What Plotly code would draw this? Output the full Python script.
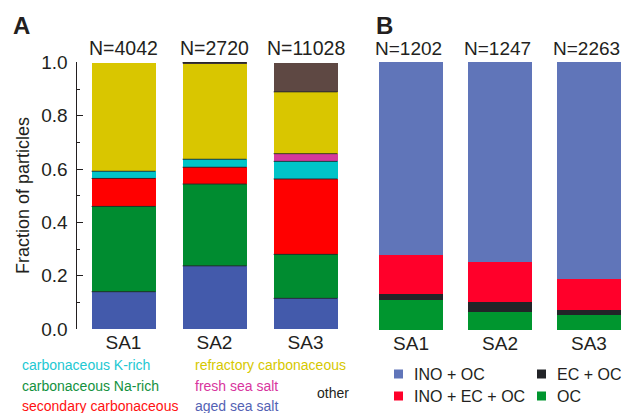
import plotly.graph_objects as go

# ---- data ----------------------------------------------------------------
categories = ["SA1", "SA2", "SA3"]

# Panel A: particle classes (fractions, bottom to top)
n_a = [4042, 2720, 11028]
aged_sea_salt = [0.140, 0.237, 0.115]
carb_na_rich = [0.320, 0.307, 0.165]
secondary_carb = [0.105, 0.063, 0.283]
carb_k_rich = [0.027, 0.030, 0.066]
fresh_sea_salt = [0.000, 0.000, 0.029]
refractory_carb = [0.408, 0.361, 0.232]
other = [0.000, 0.002, 0.110]

# Panel B: mixing state classes (fractions, bottom to top)
n_b = [1202, 1247, 2263]
oc = [0.112, 0.068, 0.056]
ec_oc = [0.022, 0.038, 0.019]
ino_ec_oc = [0.146, 0.149, 0.115]
ino_oc = [0.720, 0.745, 0.810]

# ---- styling -------------------------------------------------------------
W, H = 621, 413
FONT = "Liberation Sans, Arial, sans-serif"
INK = "#231f20"

series_a = [
    ("aged sea salt", aged_sea_salt, "#435aab", "#5462b4"),
    ("carbonaceous Na-rich", carb_na_rich, "#008c30", "#13913e"),
    ("secondary carbonaceous", secondary_carb, "#ff0000", "#ff1010"),
    ("carbonaceous K-rich", carb_k_rich, "#00c4c8", "#22c8d2"),
    ("fresh sea salt", fresh_sea_salt, "#d43a9c", "#d8359e"),
    ("refractory carbonaceous", refractory_carb, "#d9c600", "#d6c800"),
    ("other", other, "#5e4843", INK),
]
series_b = [
    ("OC", oc, "#00962f"),
    ("EC + OC", ec_oc, "#222428"),
    ("INO + EC + OC", ino_ec_oc, "#ff002a"),
    ("INO + OC", ino_oc, "#6075b9"),
]

pos = list(range(len(categories)))


def px_x(p):
    return p / W


def px_y(p):
    return 1 - p / H


fig = go.Figure()

for name, vals, col, _ in series_a:
    fig.add_trace(go.Bar(x=pos, y=vals, name=name, width=0.70,
                         marker=dict(color=col, line=dict(width=0)),
                         xaxis="x", yaxis="y", showlegend=False))

for name, vals, col in series_b:
    fig.add_trace(go.Bar(x=pos, y=vals, name=name, width=0.72,
                         marker=dict(color=col, line=dict(width=0)),
                         xaxis="x2", yaxis="y2", showlegend=False))

# thin dark separators between stacked segments in panel A
shapes = []
for i in pos:
    cum = 0.0
    for _, vals, _, _ in series_a:
        if vals[i] <= 0:
            continue
        cum += vals[i]
        if 0 < cum < 0.999 or (cum >= 0.999 and vals[i] < 0.01):
            shapes.append(dict(type="line", xref="x", yref="y",
                               x0=i - 0.35, x1=i + 0.35, y0=cum, y1=cum,
                               line=dict(color="rgba(35,35,40,0.85)", width=1)))

annotations = []

# N counts above bars
for i, n in zip(pos, n_a):
    annotations.append(dict(x=i, xref="x", y=px_y(48), yref="paper",
                            text=f"N={n}", showarrow=False,
                            font=dict(size=19.5, color=INK, family=FONT),
                            xanchor="center", yanchor="middle"))
for i, n in zip(pos, n_b):
    annotations.append(dict(x=i, xref="x2", y=px_y(48), yref="paper",
                            text=f"N={n}", showarrow=False, xshift=-2,
                            font=dict(size=19, color=INK, family=FONT),
                            xanchor="center", yanchor="middle"))

# panel letters
for letter, x in (("A", 11), ("B", 374)):
    annotations.append(dict(x=px_x(x), y=px_y(25.5), xref="paper", yref="paper",
                            text=f"<b>{letter}</b>", showarrow=False,
                            font=dict(size=24, color=INK, family=FONT),
                            xanchor="left", yanchor="middle"))

# panel A class key (coloured text)
key_a = {
    "carbonaceous K-rich": (20, 365),
    "carbonaceous Na-rich": (20, 386),
    "secondary carbonaceous": (20, 406),
    "refractory carbonaceous": (193, 365),
    "fresh sea salt": (193, 386),
    "aged sea salt": (193, 406),
    "other": (315, 393),
}
for name, _, _, tcol in series_a:
    x, y = key_a[name]
    annotations.append(dict(x=px_x(x), y=px_y(y), xref="paper", yref="paper",
                            text=name, showarrow=False,
                            font=dict(size=14, color=tcol, family=FONT),
                            xanchor="left", yanchor="middle"))

# panel B key (square swatches + labels)
key_b = {
    "INO + OC": (394, 374),
    "INO + EC + OC": (394, 396),
    "EC + OC": (537, 374),
    "OC": (537, 396),
}
for name, _, col in series_b:
    x, y = key_b[name]
    shapes.append(dict(type="rect", xref="paper", yref="paper",
                       x0=px_x(x), x1=px_x(x + 9), y0=px_y(y - 4.5), y1=px_y(y + 4.5),
                       fillcolor=col, line=dict(width=0)))
    annotations.append(dict(x=px_x(x + 18), y=px_y(y), xref="paper", yref="paper",
                            text=name, showarrow=False,
                            font=dict(size=16, color=INK, family=FONT),
                            xanchor="left", yanchor="middle"))

tickfont = dict(size=19, color=INK, family=FONT)

fig.update_layout(
    width=W, height=H,
    margin=dict(l=0, r=0, t=0, b=0),
    paper_bgcolor="white", plot_bgcolor="white",
    barmode="stack", bargap=0,
    showlegend=False,
    font=dict(family=FONT, color=INK),
    xaxis=dict(domain=[px_x(76.5), px_x(345)], range=[-0.516, 2.434],
               tickvals=pos, ticktext=categories, tickfont=tickfont,
               showline=False, showgrid=False, zeroline=False, ticks="",
               automargin=False),
    yaxis=dict(domain=[px_y(329), px_y(62)], range=[0, 1.002],
               tickvals=[0, 0.2, 0.4, 0.6, 0.8, 1.0],
               ticktext=["0.0", "0.2", "0.4", "0.6", "0.8", "1.0"],
               tickfont=tickfont, ticks="inside", ticklen=6, tickwidth=1.3,
               tickcolor=INK, showline=True, linecolor=INK, linewidth=1.3,
               showgrid=False, zeroline=False, automargin=False,
               ticklabelstandoff=4,
               minor=dict(dtick=0.1, ticks="inside", ticklen=3, tickwidth=1.3,
                          tickcolor=INK, showgrid=False),
               title=dict(text="Fraction of particles",
                          font=dict(size=18, color=INK, family=FONT), standoff=6)),
    xaxis2=dict(domain=[px_x(365), 1.0], range=[-0.517, 2.36],
                tickvals=pos, ticktext=categories, tickfont=tickfont,
                showline=False, showgrid=False, zeroline=False, ticks="",
                anchor="y2", automargin=False),
    yaxis2=dict(domain=[px_y(330), px_y(62)], range=[0, 1.0],
                visible=False, anchor="x2", automargin=False),
    shapes=shapes,
    annotations=annotations,
)

fig.write_html("out.html")
